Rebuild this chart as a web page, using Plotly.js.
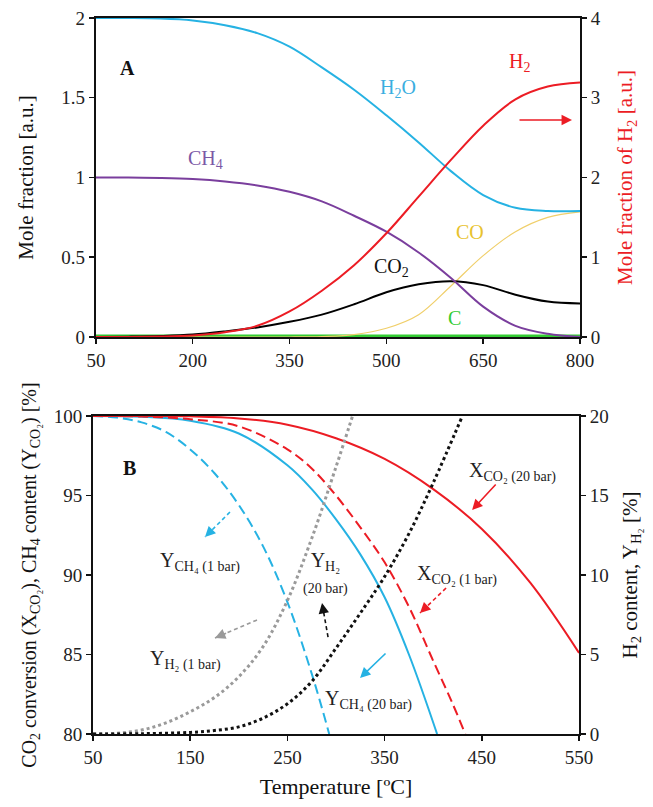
<!DOCTYPE html>
<html>
<head>
<meta charset="utf-8">
<script src="https://cdn.plot.ly/plotly-3.0.1.min.js"></script>
<style>html,body{margin:0;padding:0;background:#fff;}#chart{width:653px;height:807px;}</style>
</head>
<body>
<div id="chart"></div>
<script>
// ---------- Panel A data ----------
const tempA = [50,100,150,200,250,300,350,400,450,500,550,600,650,700,750,800];
const h2oA  = [2.0,2.0,1.997,1.985,1.955,1.905,1.82,1.69,1.55,1.39,1.22,1.04,0.89,0.81,0.79,0.79];
const ch4A  = [1.0,1.0,0.997,0.99,0.975,0.95,0.91,0.85,0.76,0.66,0.53,0.37,0.19,0.07,0.02,0.0];
const h2A   = [0,0.0,0.005,0.02,0.06,0.14,0.32,0.58,0.9,1.3,1.76,2.22,2.65,2.98,3.14,3.19];
const co2A  = [0,0.002,0.006,0.015,0.035,0.06,0.095,0.14,0.205,0.28,0.33,0.35,0.325,0.265,0.222,0.21];
const coA   = [0,0,0,0,0,0,0,0.003,0.015,0.055,0.14,0.32,0.51,0.66,0.75,0.785];
const cA    = [0,0,0,0,0,0,0,0,0,0,0,0,0,0,0,0];
const ticksA = [50,200,350,500,650,800];

// ---------- Panel B data ----------
const tX20 = [50,100,150,200,250,300,350,400,450,500,550];
const xco2_20 = [100,100,99.98,99.85,99.45,98.6,97.3,95.4,92.9,89.5,85.1];
const tX1 = [50,100,150,200,250,275,300,325,350,375,400,420,433];
const xco2_1 = [100,99.97,99.8,99.35,97.9,96.7,95.0,93.0,90.8,88.0,84.6,81.9,80];
const tY20 = [50,100,150,200,250,275,300,325,350,375,404];
const ych4_20 = [100,99.95,99.7,98.9,96.9,95.4,93.5,91.3,88.6,85.0,80];
const tY1 = [50,75,100,125,150,175,200,225,250,275,293];
const ych4_1 = [100,99.9,99.6,99.0,97.9,96.4,94.4,91.8,88.3,83.8,80];
const tH1 = [50,75,100,125,150,175,200,225,250,275,300,317];
const yh2_1 = [0,0.05,0.25,0.7,1.4,2.3,3.6,5.5,8.4,12.3,16.8,20];
const tH20 = [50,100,150,175,200,225,250,275,300,325,350,375,400,430];
const yh2_20 = [0,0.02,0.1,0.22,0.45,1.0,1.9,3.3,5.4,7.6,9.9,12.6,15.8,20];
const ticksB = [50,150,250,350,450,550];

const RED = '#ec1c24', CYAN = '#26b2e3', PURPLE = '#7a3e9d', YEL = '#f0cf6a', GREEN = '#33cc33', GREY = '#9a9a9a';
const FONT = 'Liberation Serif, Times New Roman, serif';

function ln(x, y, color, width, dash, xa, ya, name) {
  return {x: x, y: y, type: 'scatter', mode: 'lines', name: name, xaxis: xa, yaxis: ya,
          line: {color: color, width: width, dash: dash || 'solid', shape: 'spline', smoothing: 1.0},
          hoverinfo: 'skip', showlegend: false};
}

const data = [
  ln(tempA, cA, GREEN, 5, 'solid', 'x', 'y', 'C'),
  ln(tempA, coA, YEL, 1.2, 'solid', 'x', 'y', 'CO'),
  ln(tempA, co2A, '#000', 2, 'solid', 'x', 'y', 'CO2'),
  ln(tempA, ch4A, PURPLE, 2, 'solid', 'x', 'y', 'CH4'),
  ln(tempA, h2oA, CYAN, 2, 'solid', 'x', 'y', 'H2O'),
  ln(tempA, h2A, RED, 2, 'solid', 'x', 'y2', 'H2'),
  ln(tH1, yh2_1, GREY, 3, '3px,3px', 'x2', 'y4', 'YH2 1 bar'),
  ln(tH20, yh2_20, '#111', 3, '3px,3px', 'x2', 'y4', 'YH2 20 bar'),
  ln(tY1, ych4_1, CYAN, 2, '10px,5px', 'x2', 'y3', 'YCH4 1 bar'),
  ln(tY20, ych4_20, CYAN, 2, 'solid', 'x2', 'y3', 'YCH4 20 bar'),
  ln(tX1, xco2_1, RED, 2, '10px,5px', 'x2', 'y3', 'XCO2 1 bar'),
  ln(tX20, xco2_20, RED, 2, 'solid', 'x2', 'y3', 'XCO2 20 bar')
];

const tickF = {family: FONT, size: 19, color: '#222'};
const axBase = {showgrid: false, zeroline: false, showline: true, linecolor: '#111', linewidth: 2,
  ticks: 'outside', ticklen: 5, tickwidth: 1.5, tickcolor: '#111', tickfont: tickF};

function txt(x, y, text, color, xr, yr, size) {
  return {x: x, y: y, xref: xr, yref: yr, text: text, showarrow: false,
    font: {family: FONT, size: size || 20, color: color}};
}
function arrow(x, y, ax, ay, color, xr, yr) {
  return {x: x, y: y, xref: xr, yref: yr, ax: ax, ay: ay, text: '', showarrow: true,
    arrowhead: 2, arrowsize: 1.3, arrowwidth: 1.6, arrowcolor: color};
}
// dashed arrow: dashed shaft (shape) from tail to head + short arrowhead annotation
const shapes = [];
function dashedArrow(hx, hy, tx, ty, color, xr, yr, pxdx, pxdy) {
  shapes.push({type: 'line', xref: xr, yref: yr, x0: tx, y0: ty, x1: hx, y1: hy,
    line: {color: color, width: 1.6, dash: '4px,3px'}});
  return arrow(hx, hy, pxdx * 0.3, pxdy * 0.3, color, xr, yr);
}

const annotations = [
  txt(99.6, 1.687, '<b>A</b>', '#111', 'x', 'y', 20),
  txt(518, 1.56, 'H<sub>2</sub>O', '#3aaee0', 'x', 'y'),
  txt(707, 1.72, 'H<sub>2</sub>', RED, 'x', 'y'),
  txt(219, 1.11, 'CH<sub>4</sub>', '#7b58a6', 'x', 'y'),
  txt(629.5, 0.658, 'CO', '#e8c22e', 'x', 'y'),
  txt(508.7, 0.433, 'CO<sub>2</sub>', '#111', 'x', 'y'),
  txt(606, 0.119, 'C', GREEN, 'x', 'y'),
  arrow(787.6, 1.36, -54, 0, RED, 'x', 'y'),

  txt(88, 96.73, '<b>B</b>', '#111', 'x2', 'y3', 20),
  txt(160, 90.82, 'Y<sub>CH₄ (1 bar)</sub>', '#222', 'x2', 'y3'),
  dashedArrow(165.2, 92.39, 190.9, 93.96, CYAN, 'x2', 'y3', 25, -25),
  txt(144.7, 84.65, 'Y<sub>H₂ (1 bar)</sub>', '#222', 'x2', 'y3'),
  dashedArrow(175.5, 86.04, 218.7, 87.17, GREY, 'x2', 'y3', 42, -18),
  txt(288.7, 90.13, 'Y<sub>H₂</sub><br><span style="font-size:14px">(20 bar)</span>', '#222', 'x2', 'y3'),
  dashedArrow(285.6, 88.24, 291.8, 86.1, '#111', 'x2', 'y3', 6, 34),
  txt(424.5, 90.0, 'X<sub>CO₂ (1 bar)</sub>', '#222', 'x2', 'y3'),
  dashedArrow(386.4, 87.61, 413.2, 89.18, RED, 'x2', 'y3', 26, -25),
  txt(482, 96.48, 'X<sub>CO₂ (20 bar)</sub>', '#222', 'x2', 'y3'),
  arrow(440, 94.09, 25, -27, RED, 'x2', 'y3'),
  txt(333, 82.14, 'Y<sub>CH₄ (20 bar)</sub>', '#222', 'x2', 'y3'),
  arrow(324.7, 83.52, 27, -26, CYAN, 'x2', 'y3')
];

const layout = {
  width: 653, height: 807,
  margin: {l: 93, r: 73, t: 18, b: 73},
  paper_bgcolor: '#fff', plot_bgcolor: '#fff',
  font: {family: FONT, color: '#222'},
  showlegend: false,
  xaxis: Object.assign({}, axBase, {domain: [0.006, 1], anchor: 'y', range: [50, 800],
    tickvals: ticksA, mirror: true}),
  yaxis: Object.assign({}, axBase, {domain: [0.5545, 1], anchor: 'x', range: [0, 2], dtick: 0.5,
    title: {text: 'Mole fraction [a.u.]', font: {family: FONT, size: 21, color: '#111'}, standoff: 22}}),
  yaxis2: Object.assign({}, axBase, {overlaying: 'y', side: 'right', anchor: 'x', range: [0, 4], dtick: 1,
    title: {text: 'Mole fraction of H<sub>2</sub> [a.u.]', font: {family: FONT, size: 21, color: RED}, standoff: 18}}),
  xaxis2: Object.assign({}, axBase, {domain: [0, 0.998], anchor: 'y3', range: [50, 550],
    tickvals: ticksB, mirror: true,
    title: {text: 'Temperature [ºC]', font: {family: FONT, size: 22, color: '#111'}, standoff: 12}}),
  yaxis3: Object.assign({}, axBase, {domain: [0, 0.4441], anchor: 'x2', range: [80, 100], dtick: 5,
    title: {text: 'CO<sub>2</sub> conversion (X<sub>CO₂</sub>), CH<sub>4</sub> content (Y<sub>CO₂</sub>) [%]', font: {family: FONT, size: 20, color: '#111'}, standoff: 12}}),
  yaxis4: Object.assign({}, axBase, {overlaying: 'y3', side: 'right', anchor: 'x2', range: [0, 20], dtick: 5,
    title: {text: 'H<sub>2</sub> content, Y<sub>H₂</sub> [%]', font: {family: FONT, size: 21, color: '#111'}, standoff: 14}}),
  annotations: annotations,
  shapes: shapes
};

Plotly.newPlot('chart', data, layout, {displayModeBar: false, staticPlot: true});
</script>
</body>
</html>
